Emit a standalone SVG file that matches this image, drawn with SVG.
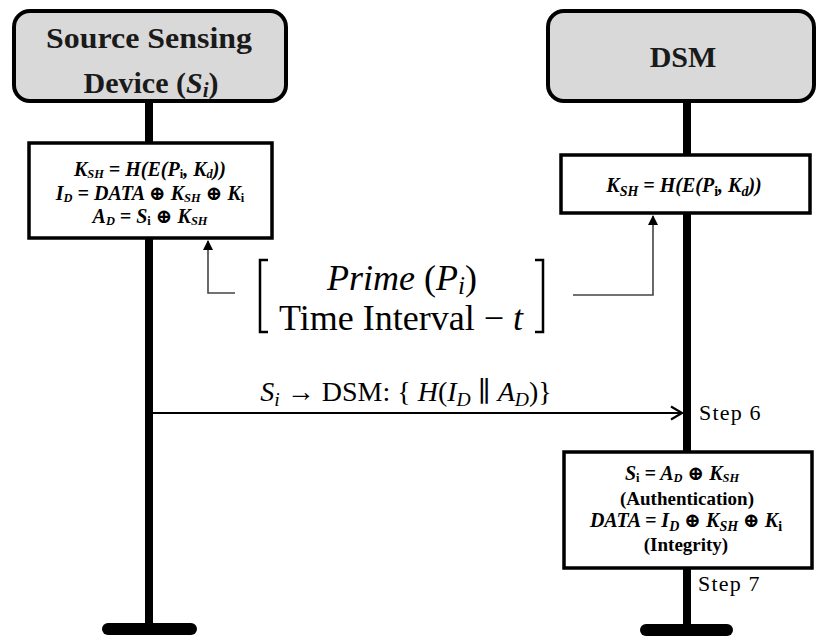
<svg xmlns="http://www.w3.org/2000/svg" width="817" height="637" viewBox="0 0 817 637">
  <style>
    text { font-family: "Liberation Serif", "Times New Roman", Tinos, "DejaVu Serif", "Noto Serif", serif; }
    .hdr { fill: #d9d9d9; stroke: #000; stroke-width: 4; }
    .hdrtxt { font-weight: bold; font-size: 30px; fill: #1a1a1a; text-anchor: middle; }
    .life { stroke: #000; stroke-width: 8; fill: none; }
    .foot { stroke: #000; stroke-width: 12; stroke-linecap: round; }
    .box { fill: #fff; stroke: #000; stroke-width: 3.5; }
    .math { font-style: italic; font-weight: bold; font-size: 20px; fill: #000; text-anchor: middle; }
    .up { font-style: normal; }
    .note { font-weight: bold; font-size: 19px; fill: #000; text-anchor: middle; }
    .step { font-size: 22px; letter-spacing: 1.2px; fill: #000; }
    .big { font-size: 36px; fill: #000; text-anchor: middle; }
    .msg { font-size: 28px; fill: #000; text-anchor: middle; }
    .feed { stroke: #444; stroke-width: 1.6; fill: none; }
    .sub { font-size: 0.7em; }
    .sm { font-size: 0.62em; }
  </style>
  <defs>
    <marker id="tri" markerWidth="10" markerHeight="10" refX="9" refY="5" orient="auto" markerUnits="userSpaceOnUse">
      <path d="M0,0 L10,5 L0,10 Z" fill="#000"/>
    </marker>
    <marker id="open" markerWidth="16" markerHeight="16" refX="13" refY="8" orient="auto" markerUnits="userSpaceOnUse">
      <path d="M2,1.5 L13,8 L2,14.5" fill="none" stroke="#000" stroke-width="2.2"/>
    </marker>
  </defs>

  <!-- lifelines -->
  <g id="lifelines">
    <line class="life" x1="149" y1="100" x2="149" y2="628"/>
    <line class="foot" x1="108" y1="629" x2="191" y2="629"/>
    <line class="life" x1="687" y1="100" x2="687" y2="629"/>
    <line class="foot" x1="646" y1="630" x2="727" y2="630"/>
  </g>

  <!-- participant: source sensing device -->
  <g id="source">
    <rect class="hdr" x="14" y="11" width="272" height="90" rx="16"/>
    <text class="hdrtxt" x="149" y="48" textLength="206" lengthAdjust="spacingAndGlyphs">Source Sensing</text>
    <text class="hdrtxt" x="151" y="93">Device (<tspan font-style="italic">S<tspan class="sub" dy="4">i</tspan></tspan><tspan dy="-4">)</tspan></text>
  </g>

  <!-- participant: DSM -->
  <g id="dsm">
    <rect class="hdr" x="548" y="11" width="266" height="90" rx="16"/>
    <text class="hdrtxt" x="683" y="67">DSM</text>
  </g>

  <!-- key derivation at the source -->
  <g id="source-calc">
    <rect class="box" x="29" y="143" width="243" height="95"/>
    <text class="math" x="150" y="176">K<tspan class="sm" dy="2">SH</tspan><tspan dy="-2"> = H(E(P</tspan><tspan class="sm up" dy="2">i</tspan><tspan dy="-2">, K</tspan><tspan class="sm" dy="2">d</tspan><tspan dy="-2">))</tspan></text>
    <text class="math" x="150" y="200">I<tspan class="sm" dy="2">D</tspan><tspan dy="-2"> = DATA ⊕ K</tspan><tspan class="sm" dy="2">SH</tspan><tspan dy="-2"> ⊕ K</tspan><tspan class="sm up" dy="2">i</tspan></text>
    <text class="math" x="150" y="223">A<tspan class="sm" dy="2">D</tspan><tspan dy="-2"> = S</tspan><tspan class="sm up" dy="2">i</tspan><tspan dy="-2"> ⊕ K</tspan><tspan class="sm" dy="2">SH</tspan></text>
  </g>

  <!-- key derivation at the DSM -->
  <g id="dsm-calc">
    <rect class="box" x="561" y="155" width="249" height="58"/>
    <text class="math" x="684" y="192">K<tspan class="sub" dy="4">SH</tspan><tspan dy="-4"> = H(E(P</tspan><tspan class="sub up" dy="4">i</tspan><tspan dy="-4">, K</tspan><tspan class="sub" dy="4">d</tspan><tspan dy="-4">))</tspan></text>
  </g>

  <!-- shared parameters -->
  <g id="shared">
    <path d="M268,260 L260,260 L260,332 L268,332" fill="none" stroke="#000" stroke-width="2.5"/>
    <path d="M535,260 L543,260 L543,332 L535,332" fill="none" stroke="#000" stroke-width="2.5"/>
    <text class="big" x="402" y="290" font-style="italic">Prime <tspan font-style="normal">(</tspan>P<tspan class="sub" dy="4">i</tspan><tspan dy="-4" font-style="normal">)</tspan></text>
    <text class="big" x="401" y="330" font-size="38">Time Interval − <tspan font-style="italic">t</tspan></text>
  </g>

  <!-- verification at the DSM -->
  <g id="dsm-verify">
    <rect class="box" x="564" y="452" width="248" height="116"/>
    <text class="math" x="682" y="480">S<tspan class="sm up" dy="2">i</tspan><tspan dy="-2"> = A</tspan><tspan class="sm" dy="2">D</tspan><tspan dy="-2"> ⊕ K</tspan><tspan class="sm" dy="2">SH</tspan></text>
    <text class="note" x="687" y="505">(Authentication)</text>
    <text class="math" x="686" y="527">DATA = I<tspan class="sub" dy="4">D</tspan><tspan dy="-4"> ⊕ K</tspan><tspan class="sub" dy="4">SH</tspan><tspan dy="-4"> ⊕ K</tspan><tspan class="sub up" dy="4">i</tspan></text>
    <text class="note" x="686" y="551">(Integrity)</text>
  </g>

  <!-- step labels -->
  <g id="steps">
    <text class="step" x="699" y="420">Step 6</text>
    <text class="step" x="698" y="591">Step 7</text>
  </g>

  <!-- connectors -->
  <g id="connectors">
    <polyline class="feed" points="235,293 208,293 208,241" marker-end="url(#tri)"/>
    <polyline class="feed" points="573,295 653,295 653,216" marker-end="url(#tri)"/>
    <line x1="153" y1="413" x2="682" y2="413" stroke="#000" stroke-width="1.8" marker-end="url(#open)"/>
    <text class="msg" x="406" y="401"><tspan font-style="italic">S<tspan class="sub" dy="5">i</tspan></tspan><tspan dy="-5"> → DSM: { </tspan><tspan font-style="italic">H</tspan>(<tspan font-style="italic">I<tspan class="sub" dy="5">D</tspan></tspan><tspan dy="-5"> ∥ </tspan><tspan font-style="italic">A<tspan class="sub" dy="5">D</tspan></tspan><tspan dy="-5">)}</tspan></text>
  </g>
</svg>
